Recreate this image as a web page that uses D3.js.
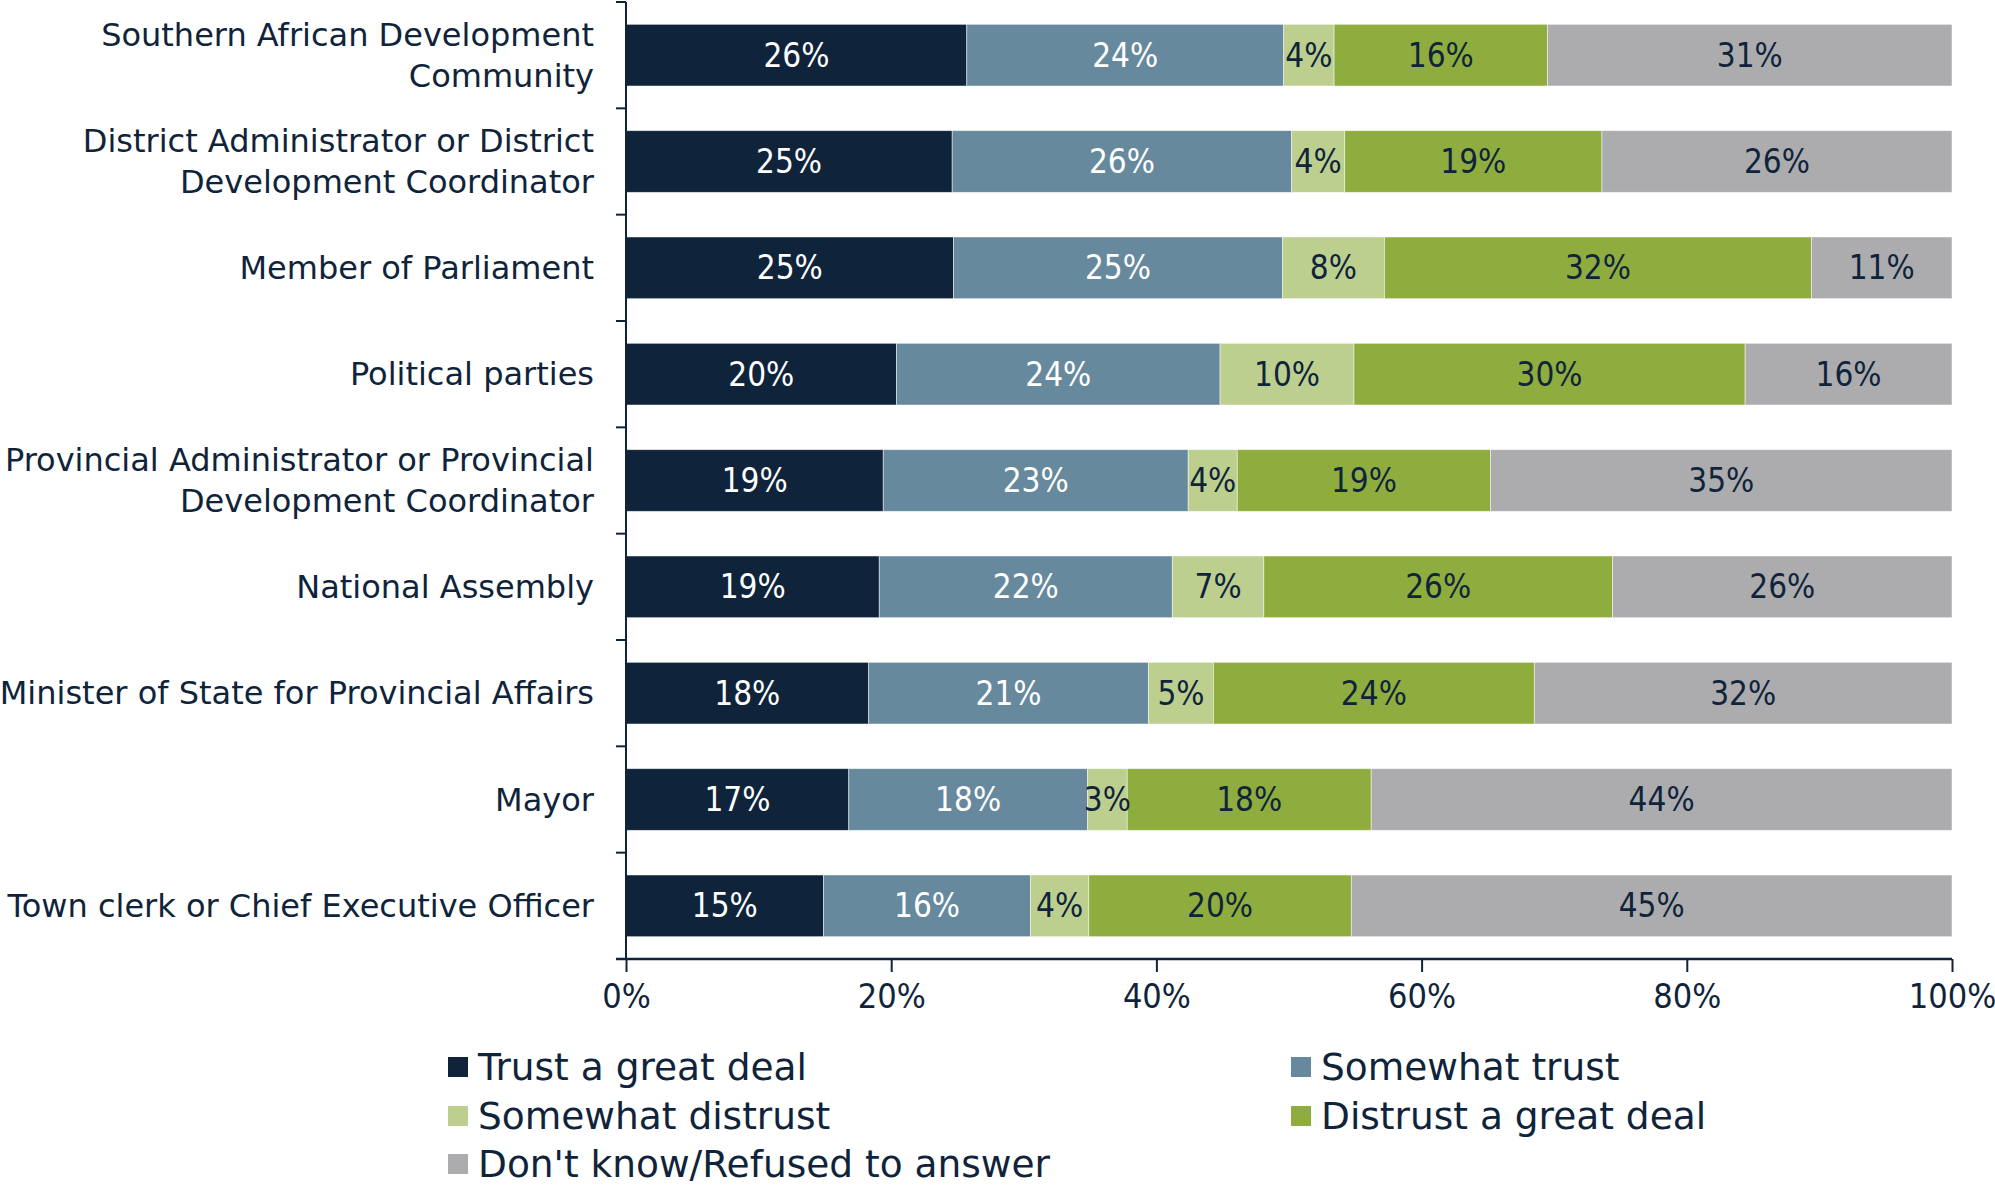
<!DOCTYPE html>
<html><head><meta charset="utf-8">
<script src="https://cdn.jsdelivr.net/npm/d3@7"></script>
<style>
html,body{margin:0;padding:0;background:#fff;}
svg text{font-family:"DejaVu Sans Condensed","DejaVu Sans",sans-serif;font-stretch:condensed;}
svg text.wide{font-family:"DejaVu Sans",sans-serif;font-stretch:normal;}
</style></head>
<body><svg id="c" width="1995" height="1186"></svg>
<script>
const categories = [
  ["Southern African Development","Community"],
  ["District Administrator or District","Development Coordinator"],
  ["Member of Parliament"],
  ["Political parties"],
  ["Provincial Administrator or Provincial","Development Coordinator"],
  ["National Assembly"],
  ["Minister of State for Provincial Affairs"],
  ["Mayor"],
  ["Town clerk or Chief Executive Officer"]
];
const seriesNames = ["Trust a great deal","Somewhat trust","Somewhat distrust","Distrust a great deal","Don't know/Refused to answer"];
const trustGreatDeal   = [25.7, 24.6, 24.7, 20.4, 19.4, 19.1, 18.3, 16.8, 14.9];
const somewhatTrust    = [23.9, 25.6, 24.8, 24.4, 23.0, 22.1, 21.1, 18.0, 15.6];
const somewhatDistrust = [3.8, 4.0, 7.7, 10.1, 3.7, 6.9, 4.9, 3.0, 4.4];
const distrustGreatDeal= [16.1, 19.4, 32.2, 29.5, 19.1, 26.3, 24.2, 18.4, 19.8];
const dontKnow         = [30.5, 26.4, 10.6, 15.6, 34.8, 25.6, 31.5, 43.8, 45.3];
const xTicks = [0, 20, 40, 60, 80, 100];
const colors = ["#0f243b","#67899d","#bdcf8f","#8fad3e","#acacae"];
const labelColors = ["#ffffff","#ffffff","#0f243b","#0f243b","#0f243b"];
const navy = "#0f243b";

const series = [trustGreatDeal, somewhatTrust, somewhatDistrust, distrustGreatDeal, dontKnow];
const svg = d3.select("#c");
const x = d3.scaleLinear().domain([0,100]).range([626,1952]);
const y = d3.scaleBand().domain(d3.range(categories.length)).range([2,959]).paddingInner(0.42).paddingOuter(0.21);

const rows = categories.map((c,i)=>{
  const vals = series.map(s=>s[i]);
  const tot = d3.sum(vals);
  let acc = 0;
  return vals.map((v,k)=>{const x0=acc; acc+=v/tot*100; return {i,k,v,x0,x1:acc};});
});

const g = svg.append("g");
rows.forEach(r=>{
  g.selectAll(null).data(r).enter().append("rect")
    .attr("x",d=>x(d.x0)).attr("y",d=>y(d.i))
    .attr("width",d=>x(d.x1)-x(d.x0)).attr("height",y.bandwidth())
    .attr("fill",d=>colors[d.k]).attr("stroke","#ffffff").attr("stroke-width",0.8).attr("stroke-opacity",0.6);
  g.selectAll(null).data(r).enter().append("text")
    .attr("x",d=>(x(d.x0)+x(d.x1))/2).attr("y",d=>y(d.i)+y.bandwidth()/2)
    .attr("text-anchor","middle").attr("dominant-baseline","central")
    .attr("font-size",33).attr("fill",d=>labelColors[d.k])
    .text(d=>Math.round(d.v)+"%");
});

const yTickPos = d3.range(categories.length+1).map(i=> i<categories.length ? y(i)-y.step()*y.paddingInner()/2 : 959);
const ya = svg.append("g");
ya.append("line").attr("x1",626).attr("x2",626).attr("y1",2).attr("y2",959).attr("stroke",navy).attr("stroke-width",2);
ya.selectAll(null).data(yTickPos).enter().append("line")
  .attr("x1",616).attr("x2",626).attr("y1",d=>d).attr("y2",d=>d).attr("stroke",navy).attr("stroke-width",2);
categories.forEach((lines,i)=>{
  const cy = y(i)+y.bandwidth()/2;
  const lh = 41;
  const t = svg.append("text").attr("class","wide").attr("text-anchor","end").attr("font-size",32).attr("fill",navy);
  lines.forEach((ln,j)=>{
    t.append("tspan").attr("x",594).attr("y",cy + (j-(lines.length-1)/2)*lh).attr("dominant-baseline","central").text(ln);
  });
});

const xa = svg.append("g").attr("transform","translate(0,959)")
  .call(d3.axisBottom(x).tickValues(xTicks).tickFormat(d=>d+"%").tickSize(13).tickPadding(12));
xa.select(".domain").attr("stroke",navy).attr("stroke-width",2.5).attr("d","M616,0H1952");
xa.selectAll(".tick line").attr("stroke",navy).attr("stroke-width",2);
xa.selectAll(".tick text").attr("font-size",34).attr("fill",navy).attr("font-family",null);

const legPos = [[448,1067],[1291,1067],[448,1116],[1291,1116],[448,1164]];
seriesNames.forEach((n,k)=>{
  const [lx,ly] = legPos[k];
  svg.append("rect").attr("x",lx).attr("y",ly-10).attr("width",20).attr("height",20).attr("fill",colors[k]);
  svg.append("text").attr("class","wide").attr("x",lx+30).attr("y",ly).attr("dominant-baseline","central")
    .attr("font-size",37.5).attr("fill",navy).text(n);
});
</script></body></html>
